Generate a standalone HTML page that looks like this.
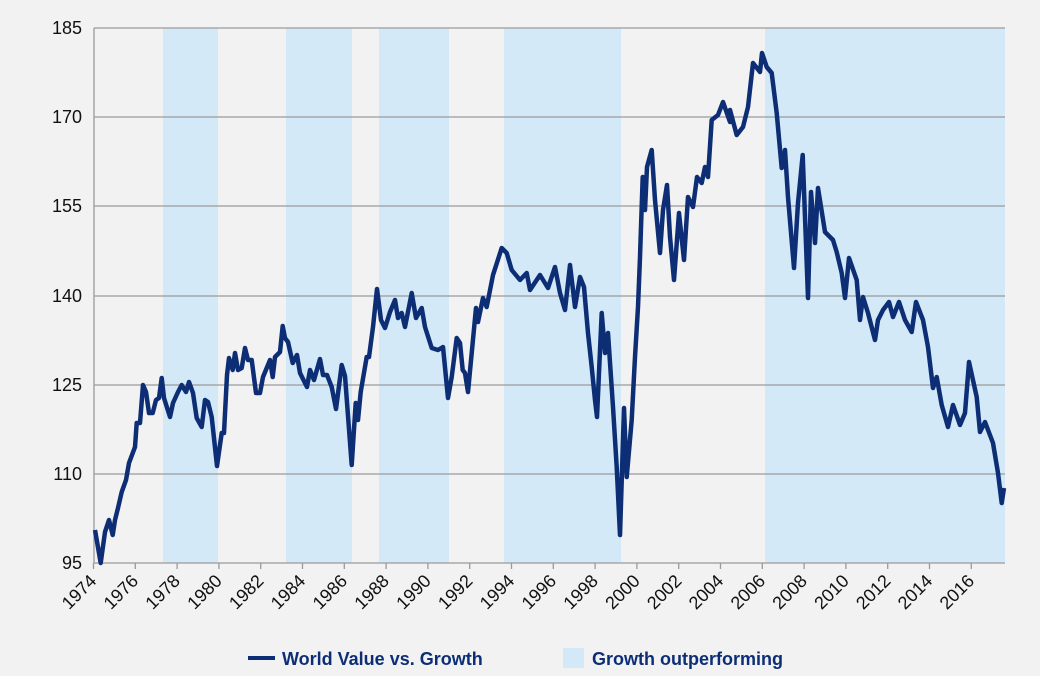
<!DOCTYPE html>
<html><head><meta charset="utf-8"><style>
html,body{margin:0;padding:0;background:#f2f2f2;}
svg{display:block;font-family:"Liberation Sans",Arial,sans-serif;}
</style></head><body>
<svg width="1040" height="676" viewBox="0 0 1040 676" xmlns="http://www.w3.org/2000/svg">
<rect width="1040" height="676" fill="#f2f2f2"/>
<g fill="#d3e9f8">
<rect x="163" y="28" width="55" height="535"/>
<rect x="286" y="28" width="66" height="535"/>
<rect x="379" y="28" width="70" height="535"/>
<rect x="504" y="28" width="117" height="535"/>
<rect x="765" y="28" width="240" height="535"/>
</g>
<g stroke="#9a9a9a" stroke-width="1.3">
<line x1="94" y1="28" x2="1005" y2="28"/>
<line x1="94" y1="117" x2="1005" y2="117"/>
<line x1="94" y1="206" x2="1005" y2="206"/>
<line x1="94" y1="296" x2="1005" y2="296"/>
<line x1="94" y1="385" x2="1005" y2="385"/>
<line x1="94" y1="474" x2="1005" y2="474"/>
<line x1="94" y1="563" x2="1005" y2="563"/>
<line x1="94" y1="28" x2="94" y2="563"/>
<path d="M93.5 563v6M135.3 563v6M177.1 563v6M218.9 563v6M260.7 563v6M302.5 563v6M344.3 563v6M386.1 563v6M427.9 563v6M469.7 563v6M511.5 563v6M553.3 563v6M595.1 563v6M636.9 563v6M678.7 563v6M720.5 563v6M762.3 563v6M804.1 563v6M845.9 563v6M887.7 563v6M929.5 563v6M971.3 563v6"/>
</g>
<g font-size="18" fill="#111" text-anchor="end">
<text x="82" y="34">185</text>
<text x="82" y="123">170</text>
<text x="82" y="212">155</text>
<text x="82" y="302">140</text>
<text x="82" y="391">125</text>
<text x="82" y="480">110</text>
<text x="82" y="569">95</text>
</g>
<g font-size="18" fill="#111" text-anchor="end">
<text transform="translate(97.5,582) rotate(-45)">1974</text>
<text transform="translate(139.3,582) rotate(-45)">1976</text>
<text transform="translate(181.1,582) rotate(-45)">1978</text>
<text transform="translate(222.9,582) rotate(-45)">1980</text>
<text transform="translate(264.7,582) rotate(-45)">1982</text>
<text transform="translate(306.5,582) rotate(-45)">1984</text>
<text transform="translate(348.3,582) rotate(-45)">1986</text>
<text transform="translate(390.1,582) rotate(-45)">1988</text>
<text transform="translate(431.9,582) rotate(-45)">1990</text>
<text transform="translate(473.7,582) rotate(-45)">1992</text>
<text transform="translate(515.5,582) rotate(-45)">1994</text>
<text transform="translate(557.3,582) rotate(-45)">1996</text>
<text transform="translate(599.1,582) rotate(-45)">1998</text>
<text transform="translate(640.9,582) rotate(-45)">2000</text>
<text transform="translate(682.7,582) rotate(-45)">2002</text>
<text transform="translate(724.5,582) rotate(-45)">2004</text>
<text transform="translate(766.3,582) rotate(-45)">2006</text>
<text transform="translate(808.1,582) rotate(-45)">2008</text>
<text transform="translate(849.9,582) rotate(-45)">2010</text>
<text transform="translate(891.7,582) rotate(-45)">2012</text>
<text transform="translate(933.5,582) rotate(-45)">2014</text>
<text transform="translate(975.3,582) rotate(-45)">2016</text>
</g>
<polyline fill="none" stroke="#0d2e75" stroke-width="4.5" stroke-linejoin="round" points="95,530 100.7,563 105,532 109,520 112.7,535 115,520 118,508 121.7,492 126,480 129,463 135,447 136.7,423 140,423 143,385 146,392 149,413 152.7,413 156,400 159,398 161.7,378 164,398 170,417 173,403 178,392 181.7,385 186,392 189,382 193,393 196.7,418 201.7,427 205,400 208,402 211.7,417 217,466 221.7,433 224,433 227,375 229,358 232.7,370 235,353 238,370 241.7,368 245,348 248,360 251.7,360 256,393 260,393 263,377 270,360 272.7,377 275,357 280,352 282.7,326 285,338 288,342 292.7,363 297,355 300,373 307,387 310,370 314,380 320,359 323,375 327,375 331.7,387 336,409 341.7,365 345,376 351.7,465 355.7,403 358,420 360.7,392 366.7,357 369,357 373,327 377,289 381,320 385,328 390,312 395,300 398,318 401.7,313 405,327 411.7,293 416,318 421.7,308 425,327 431.7,348 438,350 443,347 448,398 451.7,377 456.7,338 460,343 462.7,370 465,373 468,392 476,308 478,322 483,298 486.7,307 493,275 501.7,248 506.7,253 511.7,270 520,280 526.7,273 530,290 540,275 548,288 555,267 560,293 565,310 570,265 575,307 580,277 584,287 588,333 591.7,367 595,400 597,417 601.7,313 605,353 608,333 613,407 616.7,467 620,535 624,408 626.7,477 631.7,420 635,357 638,307 640,257 642.7,177 645,210 647,167 651.7,150 655,200 660,253 663,210 667,185 670,237 674,280 679,213 684,260 688,197 693,207 697,177 701.7,183 705,167 708,177 711.7,120 718,115 723,102 730,122 730,110 736.7,135 743,127 748,107 753,63 760,72 762,53 766.7,67 771.7,73 776.7,113 781.7,168 785,150 788,197 794,268 798,203 802.7,155 808,298 811,192 815,243 818,188 825,232 833,240 836.7,252 841.7,273 845,298 849,258 856.7,280 860,320 863,297 868,313 875,340 878,320 883,310 889,302 893,317 899,302 905,320 911.7,332 916,302 923,320 928,347 933,388 936.7,377 941.7,405 948,427 953,405 960,425 965,413 969,362 976.7,397 980,432 985,422 993,443 998,473 1001.7,503 1004,488"/>
<line x1="248" y1="658" x2="275" y2="658" stroke="#0d2e75" stroke-width="4"/>
<text x="282" y="665" font-size="18" font-weight="bold" fill="#0d2e75">World Value vs. Growth</text>
<rect x="563" y="648" width="21" height="20" fill="#d3e9f8"/>
<text x="592" y="665" font-size="18" font-weight="bold" fill="#0d2e75">Growth outperforming</text>
</svg>
</body></html>
